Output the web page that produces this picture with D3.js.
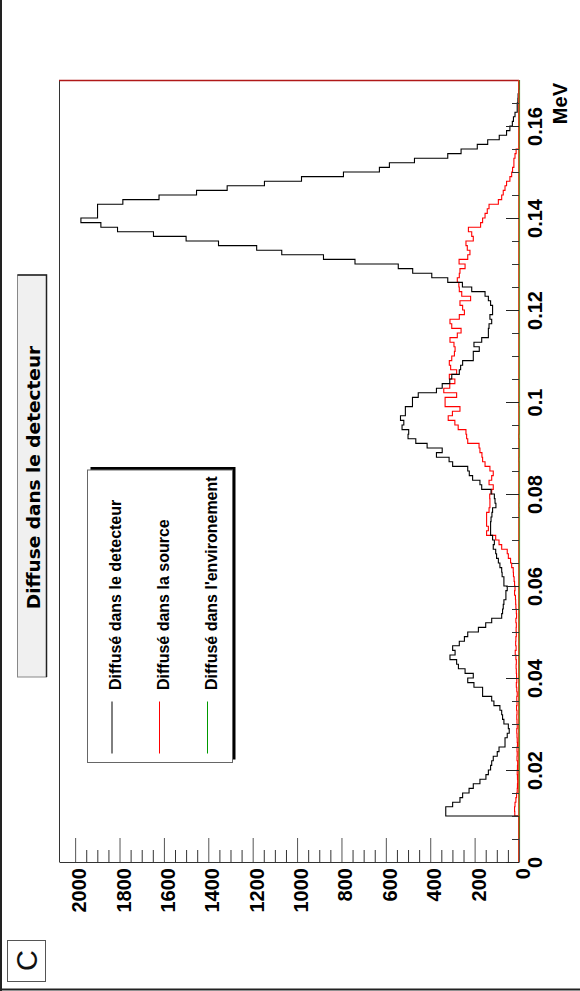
<!DOCTYPE html>
<html>
<head>
<meta charset="utf-8">
<script src="https://cdn.jsdelivr.net/npm/d3@7"></script>
<style>
  html, body { margin: 0; padding: 0; background: #fff; }
  svg { display: block; }
</style>
</head>
<body>
<script>
// Energy histograms (0.001 MeV bins from 0 to 0.17 MeV), drawn as a rotated ROOT-style canvas.
const binWidth = 0.001;
const mevDomain = [0, 0.17];

// Counts per bin: scattered in the detector
const detecteur = [
  0, 0, 0, 0, 0, 0, 0, 0, 0, 0,
  330, 330, 299, 266, 254, 225, 206, 176, 149, 138,
  128, 123, 116, 98, 90, 63, 63, 53, 44, 48,
  68, 74, 78, 86, 113, 123, 164, 164, 203, 231,
  206, 243, 273, 281, 311, 288, 299, 269, 246, 231,
  183, 150, 123, 78, 74, 71, 68, 59, 59, 53,
  68, 68, 76, 78, 86, 93, 101, 105, 116, 111,
  119, 128, 128, 128, 126, 122, 119, 104, 108, 111,
  126, 168, 176, 209, 224, 231, 299, 315, 372, 346,
  414, 465, 500, 497, 527, 519, 534, 512, 512, 480,
  480, 454, 372, 346, 312, 303, 269, 263, 254, 206,
  206, 179, 203, 168, 138, 138, 135, 123, 131, 119,
  119, 128, 138, 153, 213, 255, 321, 393, 479, 544,
  739, 881, 1069, 1182, 1354, 1500, 1647, 1809, 1884, 1974,
  1899, 1899, 1899, 1785, 1622, 1453, 1315, 1147, 980, 791,
  629, 584, 471, 321, 261, 188, 141, 89, 56, 41,
  30, 25, 18, 8, 8, 5, 4, 2, 0, 0
];

// Counts per bin: scattered in the source
const source = [
  0, 0, 0, 0, 0, 0, 0, 0, 0, 0,
  19, 20, 18, 14, 11, 8, 7, 6, 7, 8,
  7, 6, 9, 8, 9, 7, 8, 9, 10, 8,
  9, 10, 9, 11, 9, 10, 8, 10, 12, 10,
  11, 12, 13, 12, 14, 17, 13, 15, 14, 12,
  13, 12, 14, 11, 12, 14, 15, 16, 20, 18,
  20, 22, 25, 26, 33, 38, 48, 53, 78, 90,
  105, 146, 138, 146, 146, 146, 135, 131, 131, 132,
  123, 116, 135, 123, 116, 131, 153, 164, 167, 176,
  180, 231, 236, 239, 274, 289, 319, 300, 266, 333,
  333, 281, 339, 312, 289, 314, 281, 308, 314, 303,
  291, 288, 293, 311, 278, 261, 303, 311, 269, 246,
  254, 266, 218, 258, 269, 271, 278, 269, 266, 243,
  270, 231, 221, 233, 239, 206, 213, 228, 173, 164,
  153, 143, 135, 93, 78, 71, 63, 56, 41, 33,
  29, 23, 23, 18, 13, 0, 0, 0, 0, 0,
  0, 0, 0, 0, 0, 0, 0, 0, 0, 0
];

// Counts per bin: scattered in the surroundings
const environnement = [
  0, 0, 0, 0, 0, 0, 0, 0, 0, 0,
  0, 0, 0, 0, 0, 0, 0, 0, 0, 0,
  0, 0, 0, 0, 0, 0, 0, 0, 0, 0,
  0, 0, 0, 0, 0, 0, 0, 0, 0, 0,
  0, 0, 0, 0, 0, 0, 0, 0, 0, 0,
  0, 0, 0, 0, 0, 0, 0, 0, 0, 0,
  0, 0, 0, 0, 0, 0, 0, 0, 0, 0,
  0, 0, 0, 0, 0, 0, 0, 1, 0, 0,
  0, 0, 0, 0, 0, 0, 0, 1, 0, 0,
  0, 0, 2, 0, 0, 0, 0, 0, 0, 1,
  0, 0, 0, 0, 0, 0, 0, 0, 0, 0,
  0, 0, 0, 0, 0, 0, 0, 0, 0, 0,
  0, 0, 0, 0, 0, 0, 0, 0, 0, 0,
  0, 0, 0, 0, 0, 0, 0, 0, 0, 0,
  0, 0, 0, 0, 0, 0, 0, 0, 0, 0,
  0, 0, 0, 0, 0, 0, 0, 0, 0, 0,
  0, 0, 0, 0, 0, 0, 0, 2, 0, 0
];

const mevTicks = [0, 0.02, 0.04, 0.06, 0.08, 0.1, 0.12, 0.14, 0.16];
const countTicks = [0, 200, 400, 600, 800, 1000, 1200, 1400, 1600, 1800, 2000];
const seriesLabels = ["Diffusé dans le detecteur", "Diffusé dans la source", "Diffusé dans l'environement"];
const seriesColors = ["#000000", "#ff0000", "#009900"];
const titleText = "Diffuse dans le detecteur";
const axisUnit = "MeV";
const panelLetter = "C";

const W = 580, H = 991;
const frame = { left: 59, right: 519, top: 80, bottom: 862 };
const labelFont = "'Liberation Sans', Arial, Helvetica, sans-serif";

const svg = d3.select("body").append("svg")
  .attr("width", W).attr("height", H)
  .attr("viewBox", `0 0 ${W} ${H}`);

// Energy runs bottom -> top, counts run right -> left
const mev = d3.scaleLinear().domain(mevDomain).range([frame.bottom, frame.top]);
const counts = d3.scaleLinear()
  .domain([0, d3.max(detecteur) * 1.05])
  .range([frame.right, frame.left]);

// Canvas border (left and bottom edges)
svg.append("line").attr("x1", 1).attr("x2", 1).attr("y1", 0).attr("y2", H)
  .attr("stroke", "#222").attr("stroke-width", 2);
svg.append("line").attr("x1", 0).attr("x2", W).attr("y1", 989.5).attr("y2", 989.5)
  .attr("stroke", "#222").attr("stroke-width", 2);

// Histogram outline as a step path along the rotated bins
function stepPath(values) {
  const p = d3.path();
  p.moveTo(counts(0), mev(0));
  values.forEach((v, i) => {
    p.lineTo(counts(v), mev(i * binWidth));
    p.lineTo(counts(v), mev((i + 1) * binWidth));
  });
  p.lineTo(counts(0), mev(values.length * binWidth));
  return p.toString();
}

const plot = svg.append("g");
[environnement, source, detecteur].forEach((vals, k) => {
  const color = [seriesColors[2], seriesColors[1], seriesColors[0]][k];
  plot.append("path")
    .attr("d", stepPath(vals))
    .attr("fill", "none")
    .attr("stroke", color)
    .attr("stroke-width", 1.1);
});

// Frame
svg.append("line").attr("x1", frame.left + 0.5).attr("x2", frame.left + 0.5)
  .attr("y1", frame.top).attr("y2", frame.bottom).attr("stroke", "#333").attr("stroke-width", 1);
svg.append("line").attr("x1", frame.left).attr("x2", frame.right)
  .attr("y1", frame.top + 0.5).attr("y2", frame.top + 0.5).attr("stroke", "#b01818").attr("stroke-width", 1.4);
svg.append("line").attr("x1", frame.right + 0.6).attr("x2", frame.right + 0.6)
  .attr("y1", frame.top).attr("y2", frame.bottom).attr("stroke", "#2a9a2a").attr("stroke-width", 0.8);
svg.append("line").attr("x1", frame.right - 0.3).attr("x2", frame.right - 0.3)
  .attr("y1", frame.top).attr("y2", frame.bottom).attr("stroke", "#e8401c").attr("stroke-width", 1.1);

// Count axis along the bottom, ticks pointing into the frame
const countAxis = svg.append("g")
  .attr("transform", `translate(0,${frame.bottom})`)
  .call(d3.axisBottom(counts).tickValues(countTicks).tickSize(-24).tickSizeOuter(0).tickFormat(d3.format("d")));
countAxis.select(".domain").attr("stroke", "#333");
countAxis.selectAll(".tick line").attr("stroke", "#555");
countAxis.selectAll(".tick text")
  .attr("x", 0).attr("y", 0).attr("dy", null)
  .attr("transform", "translate(10.5,6) rotate(-90)")
  .attr("text-anchor", "end")
  .attr("fill", "#000")
  .style("font-family", labelFont).style("font-weight", "bold").style("font-size", "20px");

const countMinor = d3.range(0, 2050, 50).filter(v => v % 200 !== 0);
svg.append("g")
  .attr("transform", `translate(0,${frame.bottom})`)
  .call(d3.axisBottom(counts).tickValues(countMinor).tickSize(-12).tickSizeOuter(0).tickFormat(""))
  .call(g => g.select(".domain").remove())
  .selectAll(".tick line").attr("stroke", "#333");

// Energy axis on the right edge
const mevAxis = svg.append("g")
  .attr("transform", `translate(${frame.right},0)`)
  .call(d3.axisRight(mev).tickValues(mevTicks).tickSize(-13).tickSizeOuter(0).tickFormat(d => String(d)));
mevAxis.select(".domain").remove();
mevAxis.selectAll(".tick line").attr("stroke", "#222");
mevAxis.selectAll(".tick text")
  .attr("x", 0).attr("y", 0).attr("dy", null)
  .attr("transform", "translate(22.5,0) rotate(-90)")
  .attr("text-anchor", "middle")
  .attr("fill", "#000")
  .style("font-family", labelFont).style("font-weight", "bold").style("font-size", "20px");

const mevMinor = d3.range(1, 34).map(i => i * 0.005).filter(v => Math.abs(v / 0.02 - Math.round(v / 0.02)) > 1e-6);
svg.append("g")
  .attr("transform", `translate(${frame.right},0)`)
  .call(d3.axisRight(mev).tickValues(mevMinor).tickSize(-7).tickSizeOuter(0).tickFormat(""))
  .call(g => g.select(".domain").remove())
  .selectAll(".tick line").attr("stroke", "#333");

svg.append("text")
  .attr("transform", `translate(567,83) rotate(-90)`)
  .attr("text-anchor", "end")
  .style("font-family", labelFont).style("font-weight", "bold").style("font-size", "20px")
  .text(axisUnit);

// Title box
const tb = { x: 17.5, y: 275, w: 29, h: 402 };
svg.append("rect").attr("x", tb.x).attr("y", tb.y).attr("width", tb.w).attr("height", tb.h)
  .attr("fill", "#f0f0f0").attr("stroke", "#888").attr("stroke-width", 1);
svg.append("path")
  .attr("d", `M${tb.x},${tb.y}H${tb.x + tb.w}V${tb.y + tb.h}`)
  .attr("fill", "none").attr("stroke", "#222").attr("stroke-width", 1.5);
svg.append("text")
  .attr("transform", `translate(39.5,${tb.y + tb.h / 2 + 1.5}) rotate(-90)`)
  .attr("text-anchor", "middle")
  .style("font-family", "'DejaVu Sans', sans-serif").style("font-weight", "bold").style("font-size", "18.5px")
  .text(titleText);

// Legend with drop shadow
const lg = { x: 87.5, y: 470, w: 145, h: 292.5 };
svg.append("rect").attr("x", lg.x + 3).attr("y", lg.y - 3).attr("width", lg.w).attr("height", lg.h)
  .attr("fill", "#000");
svg.append("rect").attr("x", lg.x).attr("y", lg.y).attr("width", lg.w).attr("height", lg.h)
  .attr("fill", "#fff").attr("stroke", "#666").attr("stroke-width", 1);
const legendBaselines = [121, 168.5, 216.5];
seriesLabels.forEach((label, i) => {
  const bx = legendBaselines[i];
  svg.append("line")
    .attr("x1", bx - 9).attr("x2", bx - 9).attr("y1", 701.5).attr("y2", 753.5)
    .attr("stroke", seriesColors[i]).attr("stroke-width", 1);
  svg.append("text")
    .attr("transform", `translate(${bx},690) rotate(-90)`)
    .attr("text-anchor", "start")
    .style("font-family", labelFont).style("font-weight", "bold").style("font-size", "16px")
    .text(label);
});

// Panel letter
svg.append("rect").attr("x", 7.5).attr("y", 940.5).attr("width", 38).attr("height", 41)
  .attr("fill", "#fff").attr("stroke", "#555").attr("stroke-width", 1);
svg.append("text")
  .attr("transform", "translate(37,960.5) rotate(-90)")
  .attr("text-anchor", "middle")
  .style("font-family", labelFont).style("font-size", "29px").attr("fill", "#111")
  .text(panelLetter);
</script>
</body>
</html>
